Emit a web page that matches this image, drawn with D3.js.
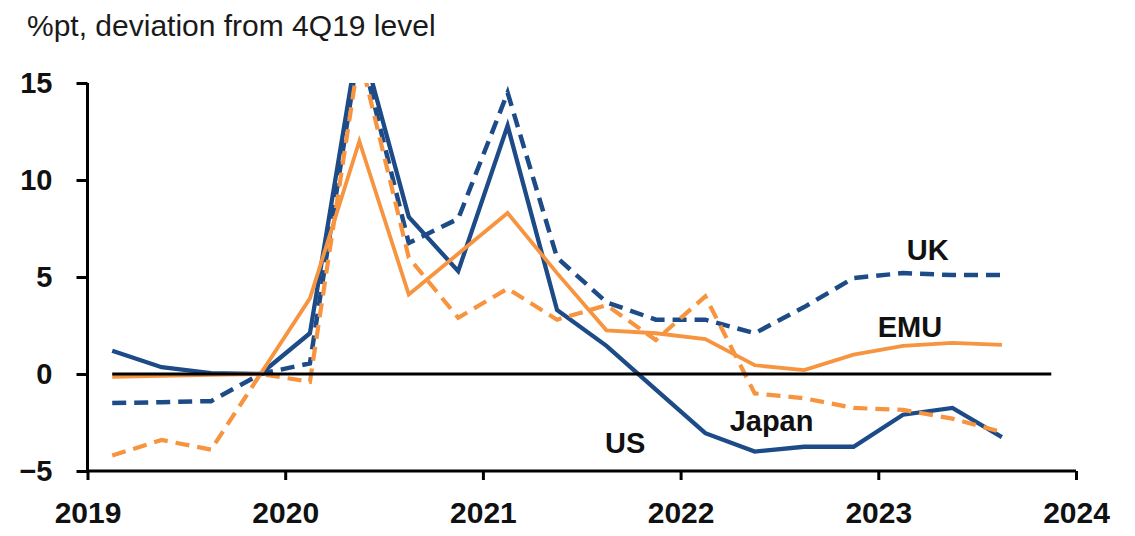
<!DOCTYPE html>
<html>
<head>
<meta charset="utf-8">
<script src="https://cdn.jsdelivr.net/npm/d3@7"></script>
<style>
  html, body { margin: 0; padding: 0; background: #ffffff; }
  svg { display: block; font-family: "Liberation Sans", Arial, sans-serif; }
</style>
</head>
<body>
<svg id="chart" width="1135" height="536"></svg>
<script>
// Household saving: deviation from the 4Q19 level, in percentage points
const quarters = ["1Q19","2Q19","3Q19","4Q19","1Q20","2Q20","3Q20","4Q20","1Q21","2Q21",
                  "3Q21","4Q21","1Q22","2Q22","3Q22","4Q22","1Q23","2Q23","3Q23"];
const usValues    = [1.2, 0.35, 0.05, 0, 2.1, 17.5, 8.1, 5.3, 12.8, 3.3, 1.45, -0.8, -3.05, -4.0, -3.75, -3.75, -2.1, -1.75, -3.25];
const ukValues    = [-1.5, -1.45, -1.4, 0, 0.55, 17.0, 6.75, 8.0, 14.5, 6.0, 3.7, 2.8, 2.8, 2.1, 3.45, 4.95, 5.2, 5.1, 5.1];
const emuValues   = [-0.15, -0.1, -0.05, 0, 3.9, 12.0, 4.1, 6.2, 8.3, 5.2, 2.25, 2.1, 1.8, 0.45, 0.2, 1.0, 1.45, 1.6, 1.5];
const japanValues = [-4.2, -3.4, -3.9, 0, -0.4, 16.5, 6.0, 2.9, 4.4, 2.8, 3.55, 1.75, 4.0, -1.0, -1.25, -1.75, -1.85, -2.3, -3.0];
const yearTicks   = [2019, 2020, 2021, 2022, 2023, 2024];
const valueTicks  = [-5, 0, 5, 10, 15];
const zeroSpan    = ["1Q19", "4Q23"];

const NAVY = "#1d4b88";
const ORANGE = "#f7943f";

// quarter label -> decimal year at the middle of the quarter
const qTime = q => 2000 + (+q.slice(2)) + (+q[0] - 0.5) / 4;

const svg = d3.select("#chart");
const x = d3.scaleLinear().domain([2019, 2024]).range([87.5, 1076]);
const y = d3.scaleLinear().domain([-5, 15]).range([471, 83]);

// title
svg.append("text")
  .attr("x", 27).attr("y", 36)
  .attr("font-size", 30).attr("fill", "#1a1a1a")
  .text("%pt, deviation from 4Q19 level");

// clip so the 2Q20 spike is cut at the top of the axis
svg.append("clipPath").attr("id", "plotClip")
  .append("rect")
  .attr("x", x(2019)).attr("y", y(15))
  .attr("width", x(2024) - x(2019)).attr("height", y(-5) - y(15));

const plot = svg.append("g").attr("clip-path", "url(#plotClip)");

const series = [
  { name: "US",    values: usValues,    color: NAVY,   dash: null,   width: 4.3 },
  { name: "UK",    values: ukValues,    color: NAVY,   dash: "14,8", width: 4.5 },
  { name: "EMU",   values: emuValues,   color: ORANGE, dash: null,   width: 3.8 },
  { name: "Japan", values: japanValues, color: ORANGE, dash: "14,8", width: 4.2 }
];

const line = d3.line()
  .x(d => x(qTime(d.q)))
  .y(d => y(d.v));

series.forEach(s => {
  plot.append("path")
    .datum(quarters.map((q, i) => ({ q, v: s.values[i] })))
    .attr("d", line)
    .attr("fill", "none")
    .attr("stroke", s.color)
    .attr("stroke-width", s.width)
    .attr("stroke-linejoin", "miter")
    .attr("stroke-dasharray", s.dash);
});

// zero reference line
svg.append("line")
  .attr("x1", x(qTime(zeroSpan[0]))).attr("x2", x(qTime(zeroSpan[1])))
  .attr("y1", y(0)).attr("y2", y(0))
  .attr("stroke", "#000").attr("stroke-width", 2.8);

// y axis
const yAxis = svg.append("g")
  .attr("transform", `translate(${x(2019)},0)`)
  .call(d3.axisLeft(y).tickValues(valueTicks).tickSize(11).tickPadding(24).tickFormat(d3.format("d")));
yAxis.select(".domain").attr("stroke", "#000").attr("stroke-width", 3).attr("d", `M0,${y(15)}V${y(-5)}`);
yAxis.selectAll(".tick line").attr("stroke", "#000").attr("stroke-width", 3);
yAxis.selectAll(".tick text")
  .attr("font-size", 29).attr("font-weight", "bold").attr("fill", "#111")
  .attr("font-family", "Liberation Sans, Arial, sans-serif");

// x axis
const xAxis = svg.append("g")
  .attr("transform", `translate(0,${y(-5)})`)
  .call(d3.axisBottom(x).tickValues(yearTicks).tickSize(9).tickPadding(22).tickFormat(d3.format("d")));
xAxis.select(".domain").attr("stroke", "#000").attr("stroke-width", 3).attr("d", `M${x(2019)},0H${x(2024)}`);
xAxis.selectAll(".tick line").attr("stroke", "#000").attr("stroke-width", 3);
xAxis.selectAll(".tick text")
  .attr("font-size", 30).attr("font-weight", "bold").attr("fill", "#111")
  .attr("font-family", "Liberation Sans, Arial, sans-serif");

// series labels
const seriesLabels = [
  { text: "UK",    t: 2023.25,  v: 5.9 },
  { text: "EMU",   t: 2023.16,  v: 1.9 },
  { text: "Japan", t: 2022.46,  v: -2.95 },
  { text: "US",    t: 2021.72,  v: -4.05 }
];
svg.append("g").selectAll("text")
  .data(seriesLabels)
  .join("text")
  .attr("x", d => x(d.t)).attr("y", d => y(d.v))
  .attr("text-anchor", "middle")
  .attr("font-size", 29).attr("font-weight", "bold").attr("fill", "#111")
  .text(d => d.text);
</script>
</body>
</html>
